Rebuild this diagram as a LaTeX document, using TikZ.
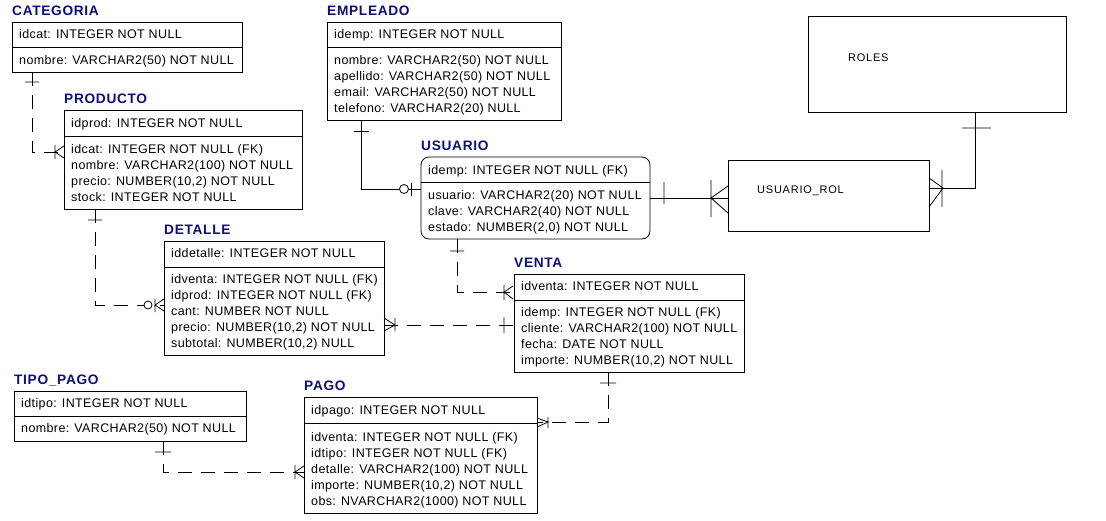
\documentclass[tikz,border=0pt]{standalone}
\usepackage{fontspec}
\setmainfont{Liberation Sans}
\newfontfamily\rowfont[LetterSpace=3]{Liberation Sans}
\newfontfamily\ttlfont[LetterSpace=5]{Liberation Sans}
\newfontfamily\plainfont[LetterSpace=7]{Liberation Sans}
\definecolor{ttlblue}{RGB}{14,14,120}
\tikzset{
  tbl/.style={draw, line width=0.8pt, anchor=north west, inner sep=0pt, outer sep=0pt},
  ttl/.style={anchor=base west, inner sep=0pt, text=ttlblue, font=\ttlfont\fontsize{13.7}{13.7}\selectfont\bfseries},
  rowtxt/.style={anchor=base west, inner sep=0pt, font=\rowfont\fontsize{12.5}{16}\selectfont},
  plaintxt/.style={anchor=base west, inner sep=0pt, font=\plainfont\fontsize{11}{13}\selectfont},
  conn/.style={line width=0.8pt},
  rel/.style={line width=0.8pt, dash pattern=on 14pt off 9pt},
  endmark/.style={line width=0.8pt},
  ring/.style={line width=0.8pt, fill=white},
}
\newcommand{\erattrs}[4]{%
  \foreach \t [count=\i] in {#4} {\node[rowtxt] (#1-\i) at ({#2},{#3+16*(\i-1)}) {\t};}}
\begin{document}
\begin{tikzpicture}[x=1pt,y=-1pt]
\useasboundingbox (0,0) rectangle (1106,520);
\fill[white] (0,0) rectangle (1106,520);

% CATEGORIA
\node[ttl] (catT) at (12,15.5) {CATEGORIA};
\node[tbl, minimum width=230pt, minimum height=50pt] (cat) at (12,22) {};
\draw[conn] (cat.west |- 0,47) -- (cat.east |- 0,47);
\node[rowtxt] (catpk) at (19,38) {idcat: INTEGER NOT NULL};
\erattrs{cat}{19}{64}{{nombre: VARCHAR2(50) NOT NULL}}

% PRODUCTO
\node[ttl] (prodT) at (64,103.5) {PRODUCTO};
\node[tbl, minimum width=238pt, minimum height=99pt] (prod) at (64,110) {};
\draw[conn] (prod.west |- 0,136) -- (prod.east |- 0,136);
\node[rowtxt] (prodpk) at (71,127) {idprod: INTEGER NOT NULL};
\erattrs{prod}{71}{153}{{idcat: INTEGER NOT NULL (FK)},{nombre: VARCHAR2(100) NOT NULL},{precio: NUMBER(10,2) NOT NULL},{stock: INTEGER NOT NULL}}

% EMPLEADO
\node[ttl] (empT) at (327,15.5) {EMPLEADO};
\node[tbl, minimum width=234pt, minimum height=98pt] (emp) at (327,22) {};
\draw[conn] (emp.west |- 0,47) -- (emp.east |- 0,47);
\node[rowtxt] (emppk) at (334,38) {idemp: INTEGER NOT NULL};
\erattrs{emp}{334}{64}{{nombre: VARCHAR2(50) NOT NULL},{apellido: VARCHAR2(50) NOT NULL},{email: VARCHAR2(50) NOT NULL},{telefono: VARCHAR2(20) NULL}}

% USUARIO
\node[ttl] (usrT) at (421,150.5) {USUARIO};
\node[tbl, rounded corners=8pt, minimum width=229pt, minimum height=82pt] (usr) at (421,157) {};
\draw[conn] (usr.west |- 0,182) -- (usr.east |- 0,182);
\node[rowtxt] (usrpk) at (428,174) {idemp: INTEGER NOT NULL (FK)};
\erattrs{usr}{428}{199}{{usuario: VARCHAR2(20) NOT NULL},{clave: VARCHAR2(40) NOT NULL},{estado: NUMBER(2,0) NOT NULL}}

% DETALLE
\node[ttl] (detT) at (164,234.5) {DETALLE};
\node[tbl, minimum width=220pt, minimum height=114pt] (det) at (164,241) {};
\draw[conn] (det.west |- 0,267) -- (det.east |- 0,267);
\node[rowtxt] (detpk) at (171,257) {iddetalle: INTEGER NOT NULL};
\erattrs{det}{171}{283}{{idventa: INTEGER NOT NULL (FK)},{idprod: INTEGER NOT NULL (FK)},{cant: NUMBER NOT NULL},{precio: NUMBER(10,2) NOT NULL},{subtotal: NUMBER(10,2) NULL}}

% VENTA
\node[ttl] (venT) at (514,267.5) {VENTA};
\node[tbl, minimum width=230pt, minimum height=98pt] (ven) at (514,274) {};
\draw[conn] (ven.west |- 0,300) -- (ven.east |- 0,300);
\node[rowtxt] (venpk) at (521,290) {idventa: INTEGER NOT NULL};
\erattrs{ven}{521}{316}{{idemp: INTEGER NOT NULL (FK)},{cliente: VARCHAR2(100) NOT NULL},{fecha: DATE NOT NULL},{importe: NUMBER(10,2) NOT NULL}}

% TIPO_PAGO
\node[ttl] (tipoT) at (14,384.5) {TIPO\_PAGO};
\node[tbl, minimum width=232pt, minimum height=50pt] (tipo) at (14,391) {};
\draw[conn] (tipo.west |- 0,416) -- (tipo.east |- 0,416);
\node[rowtxt] (tipopk) at (21,407) {idtipo: INTEGER NOT NULL};
\erattrs{tipo}{21}{432}{{nombre: VARCHAR2(50) NOT NULL}}

% PAGO
\node[ttl] (pagoT) at (304,390.5) {PAGO};
\node[tbl, minimum width=233pt, minimum height=116pt] (pago) at (304,397) {};
\draw[conn] (pago.west |- 0,423) -- (pago.east |- 0,423);
\node[rowtxt] (pagopk) at (311,414) {idpago: INTEGER NOT NULL};
\erattrs{pago}{311}{441}{{idventa: INTEGER NOT NULL (FK)},{idtipo: INTEGER NOT NULL (FK)},{detalle: VARCHAR2(100) NOT NULL},{importe: NUMBER(10,2) NOT NULL},{obs: NVARCHAR2(1000) NOT NULL}}

% ROLES and USUARIO_ROL
\node[tbl, minimum width=258pt, minimum height=96pt] (roles) at (808,16) {};
\node[plaintxt] (rolesT) at (848,61) {ROLES};
\node[tbl, minimum width=201pt, minimum height=71pt] (ur) at (728,160) {};
\node[plaintxt] (urT) at (757,193) {USUARIO\_ROL};

% ---- connectors ----
% CATEGORIA -> PRODUCTO
\draw[rel] ([xshift=20pt]cat.south west) |- ([yshift=-42pt]prod.north west);
\draw[endmark] (25,82) -- (39,82) (55,145) -- (55,159) (64,146) -- (55,152) -- (64,158);
% PRODUCTO -> DETALLE
\draw[rel] ([xshift=31pt]prod.south west) |- ([yshift=-64pt]det.north west);
\draw[endmark] (88,220) -- (102,220) (155,299) -- (155,312) (164,299) -- (155,305) -- (164,311);
\draw[ring] (148,305) circle[radius=4pt];
% EMPLEADO -> USUARIO
\draw[conn] ([xshift=34pt]emp.south west) |- ([yshift=-32pt]usr.north west);
\draw[endmark] (354,131) -- (369,131) (411,183) -- (411,196);
\draw[ring] (404,189) circle[radius=4.5pt];
% USUARIO -> USUARIO_ROL
\draw[conn] (usr.east |- 0,198) -- (ur.west |- 0,198);
\draw[endmark] (664,182) -- (664,204) (711,180) -- (711,217) (728,186) -- (711,198) -- (728,213);
% USUARIO_ROL -> ROLES
\draw[conn] ([yshift=-28pt]ur.north east) -| ([xshift=-91pt]roles.south east);
\draw[endmark] (962,128) -- (991,128) (942,170) -- (942,207) (929,178) -- (943,188) -- (929,207);
% USUARIO -> VENTA
\draw[rel] ([xshift=36pt]usr.south west) |- ([yshift=-18pt]ven.north west);
\draw[endmark] (450,251) -- (464,251) (504,285) -- (504,300) (513,286) -- (504,292) -- (513,299);
% DETALLE -> VENTA
\draw[rel] (det.east |- 0,325) -- (ven.west |- 0,325);
\draw[endmark] (384,318) -- (395,325) -- (384,331) (395,318) -- (395,331) (504,317) -- (504,333);
% VENTA -> PAGO
\draw[rel] ([xshift=94pt]ven.south west) |- ([yshift=-25pt]pago.north east);
\draw[endmark] (600,383) -- (616,383) (537,418) -- (548,422) -- (537,427) (548,417) -- (548,428);
% TIPO_PAGO -> PAGO
\draw[rel] ([xshift=149pt]tipo.south west) |- ([yshift=-75pt]pago.north west);
\draw[endmark] (155,452) -- (171,452) (295,465) -- (295,479) (304,466) -- (295,472) -- (304,478);
\end{tikzpicture}
\end{document}
